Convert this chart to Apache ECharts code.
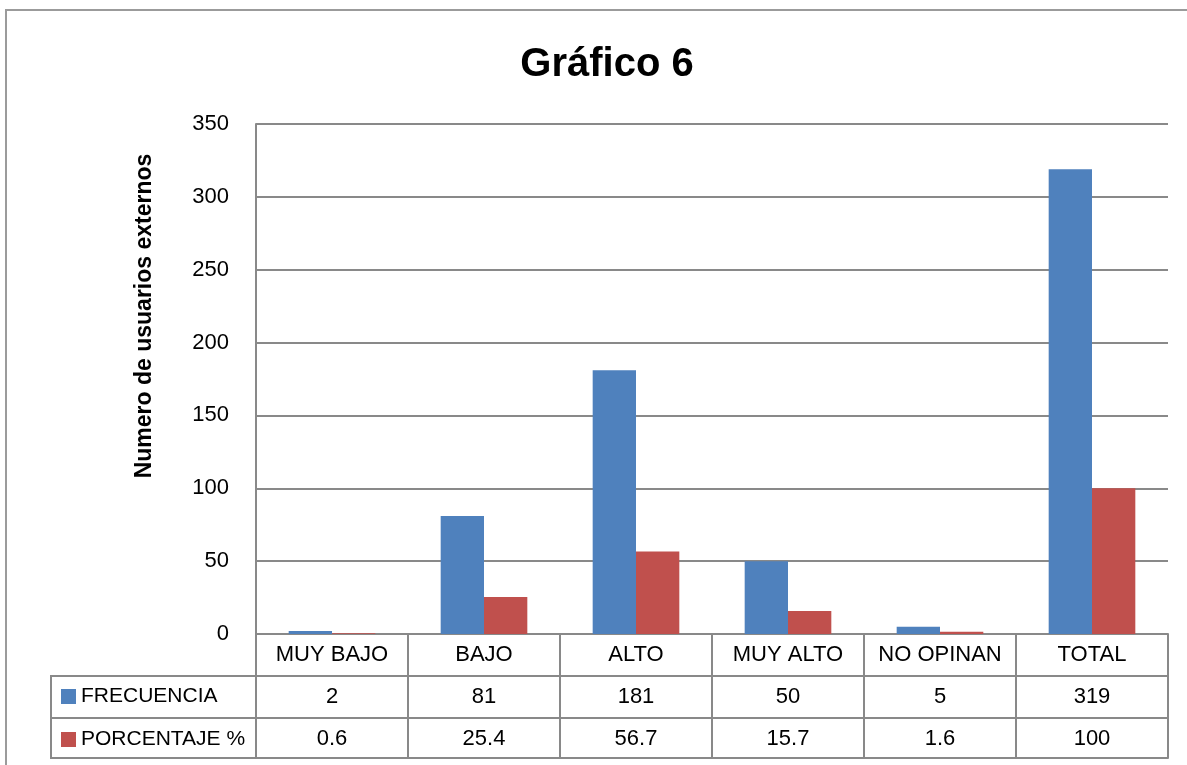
<!DOCTYPE html>
<html>
<head>
<meta charset="utf-8">
<script src="https://cdn.jsdelivr.net/npm/echarts@6/dist/echarts.min.js"></script>
<style>
html,body{margin:0;padding:0;background:#fff;}
#c{width:1187px;height:765px;}
</style>
</head>
<body>
<div id="c"></div>
<script>
var categories = ['MUY BAJO', 'BAJO', 'ALTO', 'MUY ALTO', 'NO OPINAN', 'TOTAL'];
var frecuencia = [2, 81, 181, 50, 5, 319];
var porcentaje = [0.6, 25.4, 56.7, 15.7, 1.6, 100];
var yTicks = { min: 0, max: 350, interval: 50 };
var seriesNames = ['FRECUENCIA', 'PORCENTAJE %'];
var titleText = 'Gráfico 6';
var yName = 'Numero de usuarios externos';

var FONT = '"Liberation Sans", Arial, sans-serif';
var GRID = '#898989';
var chart = echarts.init(document.getElementById('c'));

function tableAxis(offset, labels) {
  return {
    type: 'category', position: 'bottom', offset: offset, data: labels,
    axisLine: { show: true, lineStyle: { color: GRID, width: 2 } },
    axisTick: { show: false },
    axisLabel: { show: labels.length > 0, interval: 0, margin: 10, color: '#000', fontSize: 22, fontFamily: FONT },
    splitLine: { show: false }
  };
}

var option = {
  animation: false,
  backgroundColor: '#fff',
  title: {
    text: titleText, left: 602, top: 40, textAlign: 'center',
    textStyle: { fontFamily: FONT, fontSize: 40, fontWeight: 'bold', color: '#000' }
  },
  legend: {
    orient: 'vertical', left: 61, top: 686, padding: 0,
    itemWidth: 15, itemHeight: 15, itemGap: 22,
    icon: 'rect', selectedMode: false,
    data: seriesNames,
    textStyle: { fontFamily: FONT, fontSize: 21, color: '#000', lineHeight: 20 }
  },
  grid: { left: 256, right: 19, top: 124, bottom: 131, containLabel: false },
  xAxis: [
    {
      type: 'category', data: categories, position: 'bottom',
      axisLine: { show: true, lineStyle: { color: GRID, width: 2 } },
      axisTick: { show: true, length: 124, lineStyle: { color: GRID, width: 2 } },
      axisLabel: { interval: 0, margin: 10, color: '#000', fontSize: 22, fontFamily: FONT },
      splitLine: { show: false }
    },
    tableAxis(42, frecuencia.map(String)),
    tableAxis(84, porcentaje.map(String)),
    tableAxis(124, [])
  ],
  yAxis: {
    type: 'value', min: yTicks.min, max: yTicks.max, interval: yTicks.interval,
    axisLine: { show: true, lineStyle: { color: GRID, width: 2 } },
    axisTick: { show: false },
    axisLabel: { margin: 27, color: '#000', fontSize: 22, fontFamily: FONT, padding: [4, 0, 0, 0] },
    splitLine: { show: true, lineStyle: { color: GRID, width: 2 } }
  },
  series: [
    { name: seriesNames[0], type: 'bar', xAxisIndex: 0, data: frecuencia,
      itemStyle: { color: '#4F81BD' }, barGap: '0%', barCategoryGap: '43%' },
    { name: seriesNames[1], type: 'bar', xAxisIndex: 0, data: porcentaje,
      itemStyle: { color: '#C0504D' }, barGap: '0%', barCategoryGap: '43%' }
  ],
  graphic: [
    { type: 'rect', shape: { x: 6, y: 10, width: 1300, height: 900 }, silent: true,
      style: { fill: null, stroke: '#9b9b9b', lineWidth: 2 } },
    { type: 'rect', shape: { x: 51, y: 676, width: 205, height: 82 }, silent: true,
      style: { fill: null, stroke: GRID, lineWidth: 2 } },
    { type: 'line', shape: { x1: 51, y1: 718, x2: 256, y2: 718 }, silent: true,
      style: { stroke: GRID, lineWidth: 2 } },
    { type: 'text', x: 145, y: 316, rotation: Math.PI / 2, silent: true,
      style: { text: yName, fontFamily: FONT, fontSize: 23, fontWeight: 'bold', fill: '#000',
        align: 'center', verticalAlign: 'middle' } }
  ]
};
chart.setOption(option);
</script>
</body>
</html>
